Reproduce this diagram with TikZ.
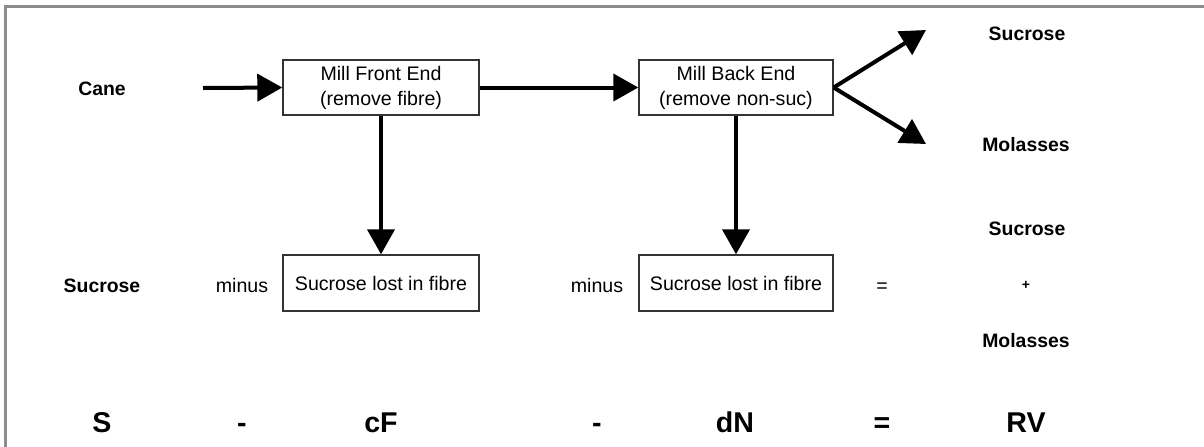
\documentclass[tikz,border=0pt]{standalone}
\usepackage{fontspec}
\setmainfont{Liberation Sans}
\usepackage{tikz}
\usetikzlibrary{arrows.meta}

\begin{document}
\begin{tikzpicture}[x=.5pt, y=-.5pt,
     every node/.style={font=\fontsize{9.8pt}{12.5pt}\selectfont, inner sep=0pt},
     word/.style={anchor=base},
     millbox/.style={draw=black!80, line width=.7pt, align=center, minimum width=98pt, minimum height=27.5pt},
     label/.style={anchor=base, font=\fontsize{9.7pt}{12pt}\selectfont\bfseries},
     term/.style={anchor=base, font=\fontsize{14.3pt}{16pt}\selectfont\bfseries},
     flow/.style={line width=2pt, -{Triangle[length=12.5pt, width=13.5pt]}}]
     \useasboundingbox (0,0) rectangle (1204,446);
     \begin{scope}
     \clip (0,0) rectangle (1204,446);
     \draw[black!45, line width=1.5pt] (5.5,460) -- (5.5,6) -- (1220,6);
     \end{scope}

     % top row: the mill
     \node[label] (cane) at (102,95) {Cane};
     \coordinate (canein) at (203,88);
     \node[millbox] (front) at (381,87.5) {Mill Front End\\(remove fibre)};
     \node[millbox, minimum width=97pt] (back) at (736,87.5) {Mill Back End\\(remove non-suc)};
     \coordinate (sucout) at (926,30);
     \coordinate (molout) at (926,144);
     \node[label] (sucrose1) at (1027,40) {Sucrose};
     \node[label] (molasses1) at (1026,151) {Molasses};

     \draw[flow] (canein) -- (front.west);
     \draw[flow] (front.east) -- (back.west);
     \draw[flow] (back.east) -- (sucout);
     \draw[flow] (back.east) -- (molout);

     % middle row: the balance in words
     \node[label] (sucrose2) at (102,292) {Sucrose};
     \node[word] (minus1) at (242,292) {minus};
     \node[millbox, minimum height=28pt] (lostF) at (381,283) {Sucrose lost in fibre};
     \node[word] (minus2) at (597,292) {minus};
     \node[millbox, minimum width=97pt, minimum height=28pt] (lostN) at (736,283) {Sucrose lost in fibre};
     \node[word] (equals1) at (882,292) {=};
     \node[label] (sucrose3) at (1027,235) {Sucrose};
     \node[label, font=\fontsize{7pt}{8pt}\selectfont\bfseries] (plus) at (1026,289) {+};
     \node[label] (molasses2) at (1026,347) {Molasses};

     \draw[flow] (front.south) -- (lostF.north);
     \draw[flow] (back.south) -- (lostN.north);

     % bottom row: the balance in symbols
     \node[term] (S) at (102,432) {S};
     \node[term] (m1) at (242,432) {-};
     \node[term] (cF) at (381,432) {cF};
     \node[term] (m2) at (597,432) {-};
     \node[term] (dN) at (735,432) {dN};
     \node[term] (eq) at (882,432) {=};
     \node[term] (RV) at (1026,432) {RV};
\end{tikzpicture}
\end{document}
